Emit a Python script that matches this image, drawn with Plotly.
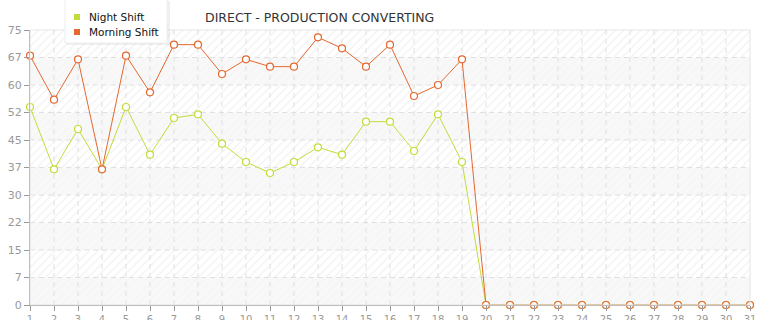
import plotly.graph_objects as go

days = list(range(1, 32))
night_shift = [54, 37, 48, 37, 54, 41, 51, 52, 44, 39, 36, 39, 43, 41, 50, 50, 42, 52, 39, 0,
               0, 0, 0, 0, 0, 0, 0, 0, 0, 0, 0]
morning_shift = [68, 56, 67, 37, 68, 58, 71, 71, 63, 67, 65, 65, 73, 70, 65, 71, 57, 60, 67, 0,
                 0, 0, 0, 0, 0, 0, 0, 0, 0, 0, 0]
y_tick_vals = [0, 7.5, 15, 22.5, 30, 37.5, 45, 52.5, 60, 67.5, 75]
y_tick_text = ["0", "7", "15", "22", "30", "37", "45", "52", "60", "67", "75"]
series_names = ["Night Shift", "Morning Shift"]

night_color = "#c3dc3a"
morning_color = "#e4682f"
font_family = "DejaVu Sans"

fig = go.Figure()

x0, x1 = days[0], days[-1]
# alternating background bands (hatched / plain) based on the y ticks
for i in range(len(y_tick_vals) - 1):
    lo, hi = y_tick_vals[i], y_tick_vals[i + 1]
    hatched = (len(y_tick_vals) - 2 - i) % 2 == 0
    bg = "#ffffff" if hatched else "#f8f8f8"
    fig.add_trace(go.Scatter(
        x=[x0, x1, x1, x0, x0], y=[lo, lo, hi, hi, lo],
        mode="lines", line=dict(width=0), fill="toself", fillcolor=bg,
        fillpattern=dict(shape="/", fgcolor="#e4e4e4", bgcolor=bg,
                         size=6, solidity=0.2 if hatched else 0.08),
        hoverinfo="skip", showlegend=False))

# dashed grid lines drawn above the bands
gx, gy = [], []
for v in y_tick_vals[1:-1]:
    gx += [x0, x1, None]
    gy += [v, v, None]
for d in days[1:-1]:
    gx += [d, d, None]
    gy += [y_tick_vals[0], y_tick_vals[-1], None]
fig.add_trace(go.Scatter(x=gx, y=gy, mode="lines", line=dict(color="#e0e0e0", width=1, dash="5px,4px"),
                         hoverinfo="skip", showlegend=False))

for name, vals, col in [(series_names[0], night_shift, night_color),
                        (series_names[1], morning_shift, morning_color)]:
    fig.add_trace(go.Scatter(
        x=days, y=vals, mode="lines+markers", name=name,
        line=dict(color=col, width=1),
        marker=dict(symbol="circle", size=7, color="#ffffff", line=dict(color=col, width=1.2)),
        showlegend=False, cliponaxis=False))

fig.update_layout(
    width=765, height=320,
    margin=dict(l=30, r=15, t=30, b=15, autoexpand=False),
    paper_bgcolor="#ffffff", plot_bgcolor="#f8f8f8",
    font=dict(family=font_family, size=10, color="#999999"),
    title=dict(text="DIRECT - PRODUCTION CONVERTING", x=0.268, xanchor="left", y=0.945, yanchor="middle",
               font=dict(family=font_family, size=12.5, color="#333333")),
    showlegend=False,
)

fig.update_xaxes(range=[x0, x1], tickmode="array", tickvals=days, ticktext=[str(d) for d in days],
                 showgrid=False, showline=True, linecolor="#999999", linewidth=1,
                 ticks="outside", ticklen=5, tickcolor="#999999",
                 tickfont=dict(size=10, color="#999999"), zeroline=False, automargin=False)
fig.update_yaxes(range=[0, 75], tickmode="array", tickvals=y_tick_vals, ticktext=y_tick_text,
                 showgrid=False, showline=True, linecolor="#999999", linewidth=1,
                 ticks="outside", ticklen=5, tickcolor="#999999",
                 tickfont=dict(size=11, color="#999999"), zeroline=False, automargin=False)

# light frame on top/right
fig.add_shape(type="rect", xref="paper", yref="paper", x0=0, x1=1, y0=0, y1=1,
              line=dict(color="#e4e4e4", width=1), layer="above")

# manual legend (box with shadow, square swatches, labels) in pixel-ish paper coords
W, H, L, T, PW, PH = 765, 320, 30, 30, 720, 275
def px(xp):
    return (xp - L) / PW
def py(yp):
    return (H - 15 - yp) / PH
fig.add_shape(type="rect", xref="paper", yref="paper", x0=px(67), x1=px(170), y0=py(45), y1=py(1),
              line=dict(width=0), fillcolor="rgba(0,0,0,0.06)", layer="above")
fig.add_shape(type="rect", xref="paper", yref="paper", x0=px(65), x1=px(167), y0=py(43), y1=py(-1),
              line=dict(color="#eeeeee", width=1), fillcolor="#ffffff", layer="above")
for k, (name, col) in enumerate(zip(series_names, [night_color, morning_color])):
    yc = 17 + 15 * k
    fig.add_shape(type="rect", xref="paper", yref="paper", x0=px(74), x1=px(80), y0=py(yc + 3), y1=py(yc - 3),
                  line=dict(width=0), fillcolor=col, layer="above")
    fig.add_annotation(text=name, xref="paper", yref="paper", x=px(87), y=py(yc), xanchor="left",
                       yanchor="middle", showarrow=False,
                       font=dict(family=font_family, size=10.5, color="#111111"))

fig.write_html("out.html")
